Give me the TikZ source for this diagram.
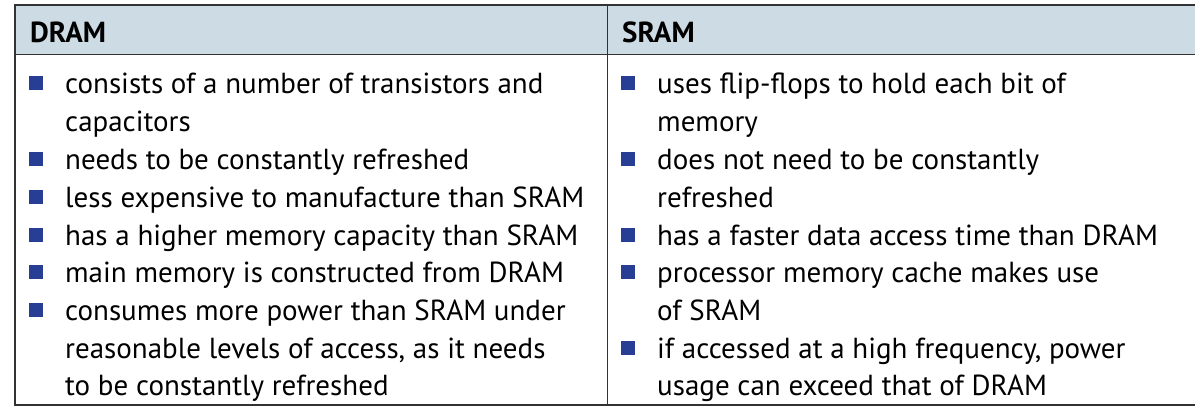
\documentclass[tikz,border=0pt]{standalone}
\usepackage{fontspec}
\setmainfont{PT Sans}
\definecolor{hdr}{RGB}{205,219,228}
\definecolor{bul}{RGB}{40,62,148}
\definecolor{rule}{RGB}{50,50,50}
\begin{document}
\begin{tikzpicture}[x=1pt,y=-1pt,
  txt/.style={anchor=mid west,inner sep=0pt,font=\fontsize{29}{34}\selectfont},
  hd/.style={anchor=mid west,inner sep=0pt,font=\fontsize{29}{34}\selectfont\bfseries},
  bl/.style={fill=bul,minimum size=14pt,inner sep=0pt}]
\useasboundingbox (0,0) rectangle (1195,408);
\fill[hdr] (15,5) rectangle (1195,54);
\draw[rule,line width=1.5pt] (1195,5) -- (15,5) -- (15,405) -- (1195,405);
\draw[rule,line width=1pt] (15,54) -- (1195,54);
\draw[rule,line width=1pt] (607,5) -- (607,405);
\node[hd] (h1) at (30,40) {DRAM};
\node[hd] (h2) at (622,40) {SRAM};
% left column
\foreach \y in {81,157,195,233,270,308}{\node[bl] at (36,\y+2) {};}
\foreach \t/\y in {consists of a number of transistors and/81,capacitors/119,needs to be constantly refreshed/157,less expensive to manufacture than SRAM/195,has a higher memory capacity than SRAM/233,main memory is constructed from DRAM/270,consumes more power than SRAM under/308,reasonable levels of access{,} as it needs/346,to be constantly refreshed/383}
  {\node[txt] at (65,\y+10) {\t};}
% right column
\foreach \y in {81,157,233,270,346}{\node[bl] at (628,\y+2) {};}
\foreach \t/\y in {uses flip-flops to hold each bit of/81,memory/119,does not need to be constantly/157,refreshed/195,has a faster data access time than DRAM/233,processor memory cache makes use/270,of SRAM/308,if accessed at a high frequency{,} power/346,usage can exceed that of DRAM/383}
  {\node[txt] at (657,\y+10) {\t};}
\end{tikzpicture}
\end{document}
